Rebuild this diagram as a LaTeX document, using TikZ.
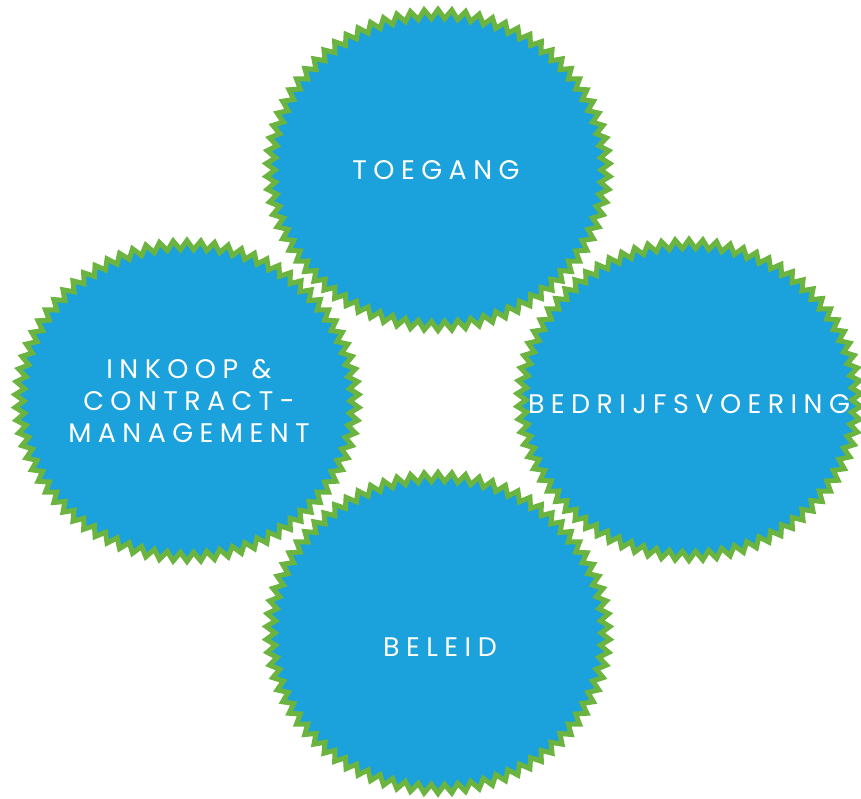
\documentclass[tikz,border=0pt]{standalone}
\usepackage{fontspec}
\usetikzlibrary{shapes.symbols}
\newfontfamily\burstfont[LetterSpace=24]{Poppins}
\definecolor{burstblue}{HTML}{1BA1DB}
\definecolor{burstgreen}{HTML}{6AB43F}

\begin{document}
\begin{tikzpicture}[x=0.02cm, y=-0.02cm]
	\tikzstyle{burst}=[starburst, starburst points=78, starburst point height=0.18cm, random starburst=0, fill=burstblue, draw=burstgreen, line width=0.1cm, minimum width=6.88cm, minimum height=6.42cm, inner sep=0pt]
	\tikzstyle{lbl}=[text=white, font=\burstfont\fontsize{15.3}{18}\selectfont, align=center, inner sep=0pt]

	\useasboundingbox (0,0) rectangle (861,798);

	\node [burst] (bTop) at (438,170) {};
	\node [burst] (bLeft) at (187,401) {};
	\node [burst] (bRight) at (689,400) {};
	\node [burst] (bBottom) at (438,633) {};

	\node [lbl] (toegang) at (436,170) {TOEGANG};
	\node [lbl] (inkoop) at (189,401) {INKOOP \&\\CONTRACT-\\MANAGEMENT};
	\node [lbl] (bedrijf) at (689,404) {BEDRIJFSVOERING};
	\node [lbl] (beleid) at (440,647) {BELEID};

\end{tikzpicture}
\end{document}
